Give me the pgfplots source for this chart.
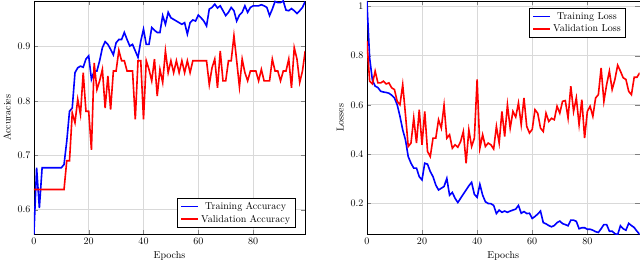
\documentclass[border=0pt]{standalone}
\usepackage{pgfplots}
\pgfplotsset{compat=1.18}
\usepackage{pgfplotstable}

\pgfplotstableread{
e ta va
0 0.554 0.637
1 0.677 0.637
2 0.603 0.637
3 0.677 0.637
4 0.677 0.637
5 0.677 0.637
6 0.677 0.637
7 0.677 0.637
8 0.677 0.637
9 0.677 0.637
10 0.677 0.637
11 0.683 0.637
12 0.726 0.690
13 0.781 0.690
14 0.787 0.778
15 0.852 0.760
16 0.861 0.803
17 0.864 0.775
18 0.862 0.852
19 0.877 0.781
20 0.883 0.781
21 0.840 0.710
22 0.855 0.870
23 0.855 0.821
24 0.874 0.837
25 0.898 0.858
26 0.909 0.787
27 0.904 0.846
28 0.895 0.784
29 0.885 0.855
30 0.907 0.855
31 0.913 0.893
32 0.913 0.874
33 0.926 0.874
34 0.913 0.855
35 0.901 0.855
36 0.904 0.855
37 0.892 0.766
38 0.880 0.874
39 0.910 0.874
40 0.932 0.766
41 0.904 0.874
42 0.904 0.858
43 0.935 0.837
44 0.930 0.877
45 0.926 0.809
46 0.926 0.858
47 0.957 0.834
48 0.941 0.892
49 0.963 0.852
50 0.953 0.874
51 0.950 0.852
52 0.947 0.874
53 0.944 0.852
54 0.941 0.874
55 0.944 0.852
56 0.923 0.874
57 0.944 0.852
58 0.949 0.874
59 0.947 0.874
60 0.958 0.874
61 0.953 0.874
62 0.947 0.874
63 0.938 0.874
64 0.969 0.830
65 0.972 0.861
66 0.978 0.877
67 0.971 0.824
68 0.975 0.892
69 0.966 0.837
70 0.957 0.837
71 0.963 0.874
72 0.972 0.874
73 0.966 0.920
74 0.947 0.874
75 0.958 0.826
76 0.963 0.877
77 0.975 0.852
78 0.963 0.837
79 0.972 0.855
80 0.975 0.855
81 0.975 0.855
82 0.975 0.837
83 0.977 0.858
84 0.975 0.837
85 0.972 0.837
86 0.957 0.837
87 0.969 0.877
88 0.983 0.855
89 0.981 0.855
90 0.981 0.837
91 0.984 0.855
92 0.967 0.855
93 0.966 0.877
94 0.970 0.824
95 0.966 0.898
96 0.961 0.877
97 0.966 0.834
98 0.972 0.855
99 0.983 0.892
}\acc

\pgfplotstableread{
e tl vl
0 1.023 0.860
1 0.790 0.696
2 0.700 0.685
3 0.676 0.737
4 0.670 0.689
5 0.655 0.689
6 0.652 0.696
7 0.650 0.685
8 0.647 0.689
9 0.639 0.669
10 0.628 0.662
11 0.600 0.614
12 0.553 0.600
13 0.498 0.682
14 0.457 0.560
15 0.389 0.430
16 0.362 0.444
17 0.342 0.546
18 0.342 0.444
19 0.307 0.580
20 0.294 0.437
21 0.362 0.573
22 0.358 0.410
23 0.328 0.389
24 0.307 0.464
25 0.273 0.464
26 0.253 0.539
27 0.260 0.505
28 0.267 0.598
29 0.300 0.464
30 0.232 0.478
31 0.243 0.423
32 0.219 0.437
33 0.202 0.427
34 0.219 0.450
35 0.236 0.491
36 0.253 0.362
37 0.270 0.498
38 0.284 0.430
39 0.235 0.464
40 0.223 0.703
41 0.276 0.423
42 0.232 0.478
43 0.205 0.430
44 0.198 0.444
45 0.197 0.437
46 0.190 0.420
47 0.157 0.512
48 0.171 0.444
49 0.162 0.573
50 0.167 0.471
51 0.162 0.600
52 0.167 0.505
53 0.171 0.573
54 0.175 0.550
55 0.190 0.607
56 0.158 0.519
57 0.165 0.628
58 0.157 0.512
59 0.158 0.485
60 0.137 0.500
61 0.145 0.580
62 0.155 0.565
63 0.167 0.505
64 0.120 0.491
65 0.115 0.566
66 0.108 0.532
67 0.103 0.545
68 0.108 0.539
69 0.120 0.594
70 0.126 0.566
71 0.116 0.614
72 0.112 0.617
73 0.107 0.546
74 0.130 0.676
75 0.130 0.573
76 0.125 0.628
77 0.095 0.519
78 0.099 0.621
79 0.099 0.464
80 0.093 0.573
81 0.093 0.594
82 0.089 0.553
83 0.083 0.628
84 0.080 0.641
85 0.095 0.750
86 0.112 0.614
87 0.112 0.682
88 0.085 0.737
89 0.085 0.662
90 0.075 0.703
91 0.071 0.761
92 0.107 0.737
93 0.095 0.710
94 0.089 0.703
95 0.117 0.655
96 0.108 0.641
97 0.100 0.712
98 0.085 0.712
99 0.072 0.730
}\loss

\pgfplotsset{
  every axis/.append style={
    scale only axis,
    width=270.5pt, height=233pt,
    xmin=0, xmax=99,
    xtick={0,20,40,60,80},
    grid=major,
    major grid style={gray!30, line width=0.6pt},
    xlabel={Epochs},
    legend cell align=center,
    legend style={draw=black, line width=1.1pt},
    legend image post style={line width=1.6pt},
  },
}

\begin{document}
\begin{tikzpicture}
\begin{axis}[
  ymin=0.554, ymax=0.984,
  ytick={0.6,0.7,0.8,0.9},
  ylabel={Accuracies},
  legend style={at={(0.965,0.028)}, anchor=south east},
]
\addplot[blue, line width=1.6pt] table[x=e, y=ta] {\acc};
\addlegendentry{Training Accuracy}
\addplot[red, line width=1.6pt] table[x=e, y=va] {\acc};
\addlegendentry{Validation Accuracy}
\end{axis}
\begin{axis}[
  xshift=332pt,
  width=272pt,
  ymin=0.071, ymax=1.023,
  ytick={0.2,0.4,0.6,0.8,1},
  ylabel={Losses},
  legend style={at={(0.951,0.971)}, anchor=north east},
]
\addplot[blue, line width=1.6pt] table[x=e, y=tl] {\loss};
\addlegendentry{Training Loss}
\addplot[red, line width=1.6pt] table[x=e, y=vl] {\loss};
\addlegendentry{Validation Loss}
\end{axis}
\end{tikzpicture}
\end{document}
